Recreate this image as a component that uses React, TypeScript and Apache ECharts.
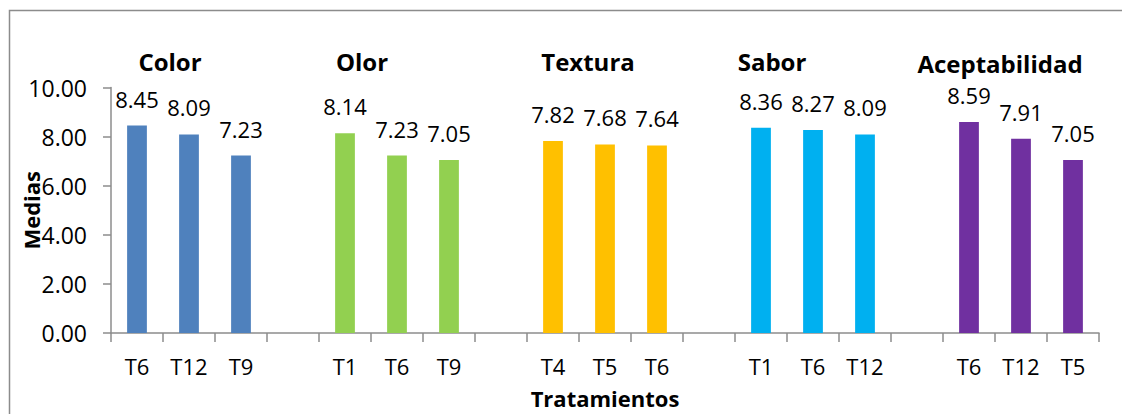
import React, { useEffect, useRef } from "react";
import * as echarts from "echarts";

const groupNames = ["Color", "Olor", "Textura", "Sabor", "Aceptabilidad"];
const groupColors = ["#4F81BD", "#92D050", "#FFC000", "#00B0F0", "#7030A0"];
const colorTreatments = ["T6", "T12", "T9"];
const olorTreatments = ["T1", "T6", "T9"];
const texturaTreatments = ["T4", "T5", "T6"];
const saborTreatments = ["T1", "T6", "T12"];
const aceptTreatments = ["T6", "T12", "T5"];
const colorValues = [8.45, 8.09, 7.23];
const olorValues = [8.14, 7.23, 7.05];
const texturaValues = [7.82, 7.68, 7.64];
const saborValues = [8.36, 8.27, 8.09];
const aceptValues = [8.59, 7.91, 7.05];
const yTicks = [0, 2, 4, 6, 8, 10];
// title positions (annotation text boxes, as placed in the original)
const titleX = [170, 362, 588, 772, 1000];
const titleY = [61, 61, 61, 61, 63];

const FONT = "'Open Sans', 'Noto Sans', sans-serif";

export default function App() {
  const ref = useRef<HTMLDivElement>(null);
  useEffect(() => {
    if (!ref.current) return;
    const chart = echarts.init(ref.current, null, { renderer: "svg" });
    const treatments = [colorTreatments, olorTreatments, texturaTreatments, saborTreatments, aceptTreatments];
    const values = [colorValues, olorValues, texturaValues, saborValues, aceptValues];
    const categories: string[] = [];
    treatments.forEach((t, gi) => {
      t.forEach((c) => categories.push(c));
      if (gi < treatments.length - 1) categories.push(" ".repeat(gi + 1));
    });
    const series = values.map((vals, gi) => {
      const data: (number | string)[] = [];
      values.forEach((v2, gj) => {
        v2.forEach((v, k) => data.push(gj === gi ? vals[k] : "-"));
        if (gj < values.length - 1) data.push("-");
      });
      return {
        name: groupNames[gi],
        type: "bar",
        stack: "all",
        barWidth: "38%",
        data,
        itemStyle: { color: groupColors[gi] },
        label: {
          show: true,
          position: "top",
          distance: 16,
          formatter: (p: any) => Number(p.value).toFixed(2),
          fontFamily: FONT,
          fontSize: 22,
          color: "#000",
        },
      };
    });
    chart.setOption({
      animation: false,
      grid: { left: 111, right: 23, top: 87.5, bottom: 81, containLabel: false, outerBoundsMode: "none" },
      xAxis: {
        type: "category",
        data: categories,
        name: "Tratamientos",
        nameLocation: "middle",
        nameGap: 54,
        nameMoveOverlap: false,
        nameTextStyle: { fontFamily: FONT, fontWeight: "bold", fontSize: 22, color: "#000" },
        axisLine: { lineStyle: { color: "#8c8c8c", width: 1.5 } },
        axisTick: { show: true, length: 9, lineStyle: { color: "#8c8c8c", width: 1.5 } },
        axisLabel: { interval: 0, margin: 22, fontFamily: FONT, fontSize: 22, color: "#000" },
      },
      yAxis: {
        type: "value",
        min: yTicks[0],
        max: yTicks[yTicks.length - 1],
        interval: 2,
        name: "Medias",
        nameLocation: "middle",
        nameGap: 69,
        nameMoveOverlap: false,
        nameTextStyle: { fontFamily: FONT, fontWeight: "bold", fontSize: 22, color: "#000" },
        splitLine: { show: false },
        axisLine: { show: true, lineStyle: { color: "#8c8c8c", width: 1.5 } },
        axisTick: { show: true, length: 8, lineStyle: { color: "#8c8c8c", width: 1.5 } },
        axisLabel: {
          margin: 24,
          fontFamily: FONT,
          fontSize: 23,
          color: "#000",
          formatter: (v: number) => v.toFixed(2),
        },
      },
      series,
      graphic: [
        {
          type: "polyline",
          shape: { points: [[9.5, 600], [9.5, 10.5], [1400, 10.5]] },
          style: { fill: "none", stroke: "#8c8c8c", lineWidth: 1.5 },
          silent: true,
        },
        ...groupNames.map((n, i) => ({
          type: "text",
          x: titleX[i],
          y: titleY[i],
          style: {
            text: n,
            fontFamily: FONT,
            fontWeight: "bold",
            fontSize: 24,
            fill: "#000",
            textAlign: "center",
            textVerticalAlign: "middle",
          },
        })),
      ],
    });
    return () => chart.dispose();
  }, []);
  return (
    <div
      ref={ref}
      style={{ position: "fixed", left: 0, top: 0, width: 1122, height: 414, background: "#fff" }}
    />
  );
}
